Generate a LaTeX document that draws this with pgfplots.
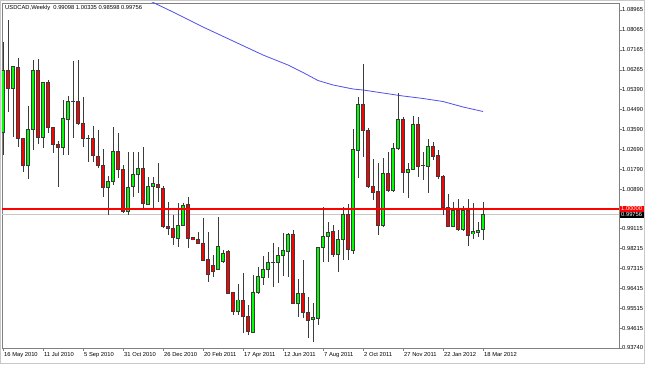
\documentclass[border=0pt]{standalone}
\usepackage{pgfplots}
\pgfplotsset{compat=1.18}
\usepackage{pgfplotstable}
\usepackage{fontspec}
\setmainfont{Liberation Sans}
\definecolor{bullg}{RGB}{0,255,0}
\definecolor{bearr}{RGB}{255,0,0}
\definecolor{wickc}{RGB}{60,60,60}
\definecolor{maline}{RGB}{80,80,235}
\definecolor{bidgray}{RGB}{200,200,200}
\definecolor{framec}{RGB}{128,128,128}
\newcommand\mtfont{\fontsize{5.8}{7}\selectfont}

\pgfplotstableread{
i o h l c
0 1.03424 1.07536 1.02433 1.06261
2 1.05437 1.06410 1.03257 1.06410
5 1.01951 1.04653 1.01338 1.03604
6 1.03604 1.06712 1.02658 1.06230
8 1.03230 1.05734 1.02735 1.05707
12 1.02780 1.04910 1.02433 1.04086
13 1.04054 1.05090 1.02433 1.04833
14 1.04833 1.06680 1.03185 1.04865
21 1.00978 1.01487 0.99730 1.01230
22 1.01230 1.03707 1.01082 1.02613
25 0.99879 1.02581 0.99730 1.00978
26 1.01005 1.02581 1.00555 1.01563
27 1.01563 1.02581 1.00708 1.01834
29 1.00226 1.01455 1.00181 1.01037
30 1.01005 1.01455 0.99956 1.01158
35 0.98681 1.00257 0.98303 0.99266
36 0.99266 1.00257 0.99235 1.00181
43 0.97285 0.99654 0.97253 0.98334
44 0.97627 0.98154 0.97591 0.98005
47 0.95375 0.96623 0.95226 0.95902
50 0.94447 0.97028 0.94402 0.96231
51 0.96231 0.97402 0.96195 0.96951
52 0.96906 0.97884 0.96578 0.97298
53 0.97285 0.98077 0.96893 0.97600
54 0.97600 0.98456 0.96501 0.97600
55 0.97600 0.98303 0.96654 0.97884
56 0.97884 0.98906 0.96983 0.98109
57 0.98109 0.98906 0.96951 0.98875
59 0.95753 0.96834 0.95150 0.96204
62 0.95033 0.95753 0.94024 0.95123
63 0.95078 0.98303 0.94776 0.98276
64 0.98276 1.00077 0.97627 0.98785
65 0.98785 0.99429 0.97627 0.98965
67 0.97960 0.99055 0.97177 0.98636
68 0.98636 1.00104 0.97704 0.99762
70 0.98154 1.03590 0.97974 1.02689
71 1.02658 1.05032 1.01383 1.04730
76 0.99280 1.02284 0.99203 1.01609
78 1.00856 1.02960 1.00780 1.02735
79 1.02735 1.05212 1.02658 1.04054
81 1.01654 1.02059 1.00483 1.01802
82 1.01802 1.04189 1.01757 1.03815
84 1.01982 1.02581 1.01307 1.01982
85 1.01937 1.03140 1.00708 1.02838
90 0.99235 1.00302 0.99176 0.99924
92 0.99086 1.00149 0.99023 0.99924
94 0.98875 1.00257 0.98636 0.98978
95 0.98951 0.99429 0.98753 0.99055
96 0.99098 1.00335 0.98598 0.99756
}\bull

\pgfplotstableread{
i o h l c
1 1.06261 1.08513 1.04369 1.05450
3 1.06383 1.06788 1.02807 1.03185
4 1.03185 1.03198 1.01681 1.01951
7 1.06230 1.06743 1.02928 1.03230
9 1.05707 1.05811 1.03424 1.03680
10 1.03680 1.03694 1.02509 1.02915
11 1.02915 1.03063 1.01005 1.02780
15 1.04865 1.06712 1.03784 1.03861
16 1.03861 1.05059 1.02807 1.03185
17 1.03185 1.03334 1.02131 1.03185
18 1.03185 1.03739 1.02131 1.02388
19 1.02388 1.03559 1.01834 1.01951
20 1.01951 1.02689 1.00555 1.00978
23 1.02613 1.03410 1.01383 1.01789
24 1.01757 1.01982 0.99820 0.99879
28 1.01834 1.02807 0.99956 1.00226
31 1.01127 1.02059 1.00329 1.00978
32 1.00933 1.01037 0.99145 0.99203
33 0.99235 1.00329 0.98830 0.99131
34 0.99131 0.99730 0.98379 0.98708
37 1.00181 1.00528 0.98231 0.98681
38 0.98708 0.98739 0.98604 0.98636
39 0.98649 0.98978 0.98424 0.98456
40 0.98456 0.99582 0.97659 0.97672
41 0.97704 0.98978 0.96726 0.97073
42 0.97447 0.97929 0.96951 0.97177
45 0.98109 0.98154 0.96172 0.96204
46 0.96231 0.96262 0.95226 0.95375
48 0.95902 0.97105 0.94402 0.95150
49 0.95150 0.95677 0.94326 0.94474
58 0.98861 0.99055 0.95722 0.95753
60 0.96204 0.97704 0.95078 0.95330
61 0.95348 0.96051 0.94177 0.95001
66 0.98965 0.99280 0.97852 0.97960
69 0.99762 1.00226 0.97704 0.98154
72 1.04730 1.06531 1.02356 1.03559
73 1.03559 1.03649 1.00933 1.01005
74 1.01005 1.02239 1.00406 1.00735
75 1.00780 1.02059 0.98830 0.99280
77 1.01609 1.02581 1.00780 1.00856
80 1.04054 1.04144 1.00708 1.01654
83 1.03815 1.04158 1.01455 1.01937
86 1.02838 1.03032 1.02208 1.02388
87 1.02388 1.02658 1.01352 1.01442
88 1.01487 1.01532 0.99730 1.00077
89 1.00077 1.00663 0.99176 0.99235
91 0.99924 1.00451 0.99023 0.99086
93 0.99924 1.00437 0.98334 0.98830
}\bear

\pgfplotstableread{
i ma
28 1.09504
29 1.09414
34 1.08873
40 1.08198
46 1.07567
52 1.06937
57 1.06486
60 1.06149
63 1.05788
66 1.05586
70 1.05405
72 1.05360
76 1.05225
80 1.05090
84 1.04978
88 1.04842
92 1.04595
96 1.04392
}\matab

\pgfplotsset{
  wicks/.style={draw=none, mark=none, forget plot,
    error bars/.cd, y dir=both, y explicit, error mark=none,
    error bar style={draw=wickc, line width=0.9pt, solid}},
  bodyout/.style={draw=none, mark=none, forget plot,
    error bars/.cd, y dir=both, y explicit, error mark=none,
    error bar style={draw=wickc, line width=3.4pt, solid}},
  bodyin/.style={draw=none, mark=none, forget plot,
    error bars/.cd, y dir=both, y explicit, error mark=none,
    error bar style={draw=#1, line width=2.3pt, solid}},
  hlevel/.style n args={2}{draw=none, mark=none, forget plot,
    error bars/.cd, x dir=both, x explicit, error mark=none,
    error bar style={draw=#1, line width=#2, solid}},
}

\begin{document}
\begin{tikzpicture}[x=1pt,y=1pt]
\fill[white] (0,0) rectangle (645,364);
\useasboundingbox (0,0) rectangle (645,364);
\draw[bidgray, line width=0.8pt] (0.4,0.4) rectangle (644.6,363.6);
\begin{axis}[
  at={(2pt,15.5pt)}, anchor=south west,
  scale only axis, width=617pt, height=345.5pt,
  xmin=-0.2, xmax=123.2, ymin=0.93717, ymax=1.09279,
  axis line style={draw=framec, line width=0.8pt},
  clip=true,
  xtick={0,8,...,96},
  xticklabels={16 May 2010, 11 Jul 2010, 5 Sep 2010, 31 Oct 2010, 26 Dec 2010, 20 Feb 2011, 17 Apr 2011, 12 Jun 2011, 7 Aug 2011, 2 Oct 2011, 27 Nov 2011, 22 Jan 2012, 18 Mar 2012},
  ytick={1.08965,1.08065,1.07165,1.06265,1.05390,1.04490,1.03590,1.02690,1.01790,1.00890,0.99115,0.98215,0.97315,0.96415,0.95515,0.94615,0.93740},
  yticklabels={1.08965,1.08065,1.07165,1.06265,1.05390,1.04490,1.03590,1.02690,1.01790,1.00890,0.99115,0.98215,0.97315,0.96415,0.95515,0.94615,0.93740},
  xtick pos=bottom, ytick pos=right, yticklabel pos=right,
  tick align=outside, major tick length=2.5pt,
  tick style={draw=framec, line width=0.6pt},
  xticklabel style={anchor=north west, font=\mtfont, inner sep=0pt, xshift=1pt, yshift=-1.5pt},
  yticklabel style={anchor=west, font=\mtfont, inner sep=0pt, xshift=0.5pt},
]
% bid line (0.99756), drawn as a horizontal error bar
\addplot[hlevel={bidgray}{1.6pt}] coordinates {(61.5,0.99756) +- (61.7,0)};
% moving average
\addplot[draw=maline, line width=0.8pt, forget plot, mark=none] table[x=i, y=ma] {\matab};
% wicks
\addplot[wicks] table[x=i, y expr={(\thisrow{h}+\thisrow{l})/2}, y error expr={(\thisrow{h}-\thisrow{l})/2}] {\bull};
\addplot[wicks] table[x=i, y expr={(\thisrow{h}+\thisrow{l})/2}, y error expr={(\thisrow{h}-\thisrow{l})/2}] {\bear};
% body outlines
\addplot[bodyout] table[x=i, y expr={(\thisrow{o}+\thisrow{c})/2}, y error expr={abs(\thisrow{c}-\thisrow{o})/2+0.000225}] {\bull};
\addplot[bodyout] table[x=i, y expr={(\thisrow{o}+\thisrow{c})/2}, y error expr={abs(\thisrow{c}-\thisrow{o})/2+0.000225}] {\bear};
% body fills
\addplot[bodyin=bullg] table[x=i, y expr={(\thisrow{o}+\thisrow{c})/2}, y error expr={max(abs(\thisrow{c}-\thisrow{o})/2-0.000225,0)}] {\bull};
\addplot[bodyin=bearr] table[x=i, y expr={(\thisrow{o}+\thisrow{c})/2}, y error expr={max(abs(\thisrow{c}-\thisrow{o})/2-0.000225,0)}] {\bear};
% level line 1.00000 on top
\addplot[hlevel={bearr}{1.2pt}] coordinates {(61.5,1.00000) +- (61.7,0)};
% title
\node[anchor=north west, font=\mtfont, inner sep=0pt] at (rel axis cs:0,1) [xshift=3pt, yshift=-2pt] {USDCAD,Weekly\ \ 0.99098 1.00335 0.98598 0.99756};
\end{axis}
\node[fill=bearr, text=white, anchor=west, font=\mtfont, inner xsep=1.5pt, inner ysep=0pt, minimum height=6pt] at (619.5,155) {1.00000};
\node[fill=black, text=white, anchor=west, font=\mtfont, inner xsep=1.5pt, inner ysep=0pt, minimum height=6pt] at (619.5,149) {0.99756};
\end{tikzpicture}
\end{document}
